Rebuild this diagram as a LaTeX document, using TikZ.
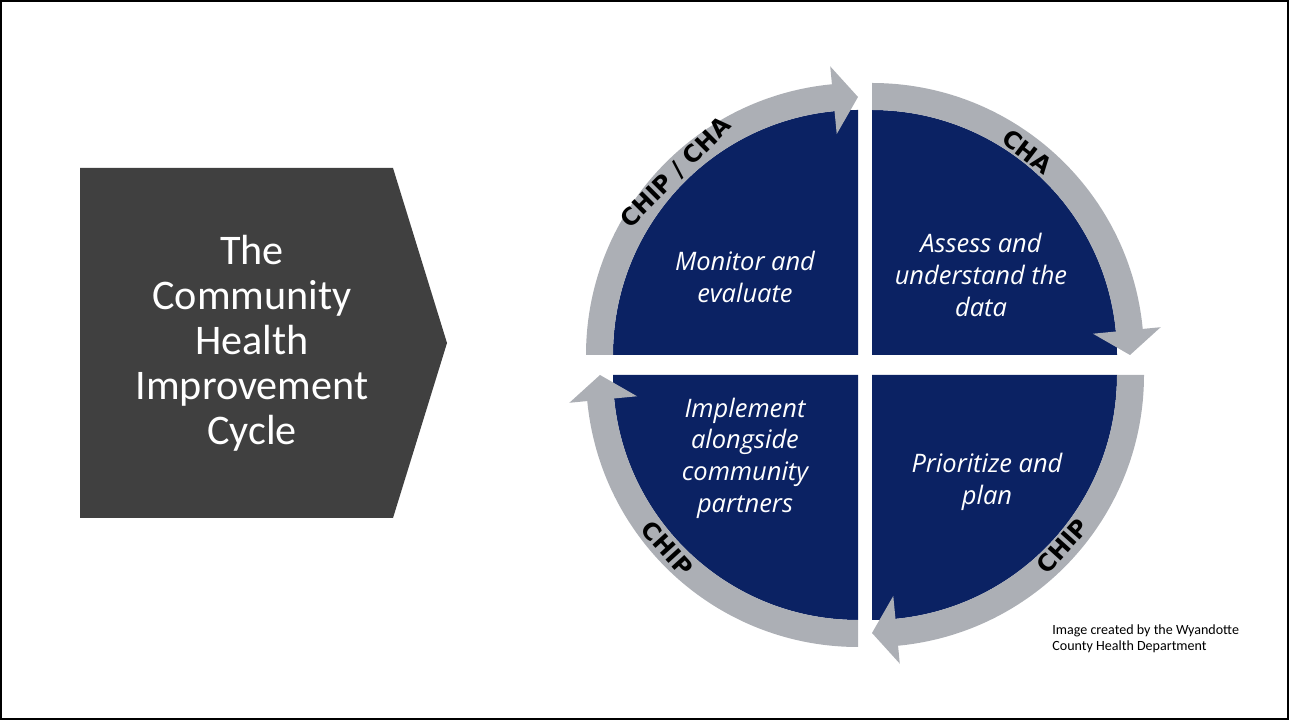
\documentclass[tikz,border=0pt]{standalone}
\usepackage{fontspec}
\setmainfont{Carlito}
\newfontfamily\quadfont{Open Sans}
\newfontfamily\ringfont{DejaVu Sans}
\usepackage{tikz}
\usetikzlibrary{calc}

\definecolor{quadnavy}{RGB}{11,34,99}
\definecolor{ringgray}{RGB}{172,175,181}
\definecolor{titlegray}{RGB}{64,64,64}

\tikzset{
	quadtext/.style={text=white, align=center, font=\quadfont\itshape\fontsize{14.5}{18}\selectfont},
	ringlabel/.style={text=black, font=\ringfont\bfseries\fontsize{13.5}{13.5}\selectfont, inner sep=0pt}
}

\begin{document}
\begin{tikzpicture}[x=0.02cm,y=0.02cm]
	\useasboundingbox (0,0) rectangle (1289,720);

	% Frame
	\draw[line width=1.2pt] (1,1) rectangle (1288,719);

	% Title arrow
	\fill[titlegray] (80,552) -- (393,552) -- (447,377) -- (393,202) -- (80,202) -- cycle;
	\node [text=white,
		align=center,
		font=\fontsize{24}{25.6}\selectfont
		] (title) at (252,377) {The\\Community\\Health\\Improvement\\Cycle};

	% Quadrant corners
	\coordinate (tl) at (858,365);
	\coordinate (tr) at (872,365);
	\coordinate (bl) at (858,345);
	\coordinate (br) at (872,345);

	% Quadrants
	\fill[quadnavy] (tl) -- ++(180:245) arc[start angle=180, end angle=90, radius=245] -- cycle;
	\fill[quadnavy] (tr) -- ++(90:245) arc[start angle=90, end angle=0, radius=245] -- cycle;
	\fill[quadnavy] (br) -- ++(0:245) arc[start angle=0, end angle=-90, radius=245] -- cycle;
	\fill[quadnavy] (bl) -- ++(-90:245) arc[start angle=-90, end angle=-180, radius=245] -- cycle;

	% Ring arrows
	\fill[ringgray] ($(tl)+(180:272)$) arc[start angle=180, end angle=95.5, radius=272]
		-- ($(tl)+(95.5:290)$) -- ($(tl)+(90:258)$) -- ($(tl)+(95.5:222)$)
		-- ($(tl)+(95.5:245)$) arc[start angle=95.5, end angle=180, radius=245] -- cycle;
	\fill[ringgray] ($(tr)+(90:272)$) arc[start angle=90, end angle=5.5, radius=272]
		-- ($(tr)+(5.5:290)$) -- ($(tr)+(0:258)$) -- ($(tr)+(5.5:222)$)
		-- ($(tr)+(5.5:245)$) arc[start angle=5.5, end angle=90, radius=245] -- cycle;
	\fill[ringgray] ($(br)+(0:272)$) arc[start angle=0, end angle=-84.5, radius=272]
		-- ($(br)+(-84.5:290)$) -- ($(br)+(-90:258)$) -- ($(br)+(-84.5:222)$)
		-- ($(br)+(-84.5:245)$) arc[start angle=-84.5, end angle=0, radius=245] -- cycle;
	\fill[ringgray] ($(bl)+(-90:272)$) arc[start angle=-90, end angle=-174.5, radius=272]
		-- ($(bl)+(-174.5:290)$) -- ($(bl)+(-180:258)$) -- ($(bl)+(-174.5:222)$)
		-- ($(bl)+(-174.5:245)$) arc[start angle=-174.5, end angle=-90, radius=245] -- cycle;

	% Ring labels
	\node[ringlabel, rotate=45] (chipcha) at ($(tl)+(135:258)$) {CHIP / CHA};
	\node[ringlabel, rotate=-37.4] (cha) at ($(tr)+(52.6:256)$) {CHA};
	\node[ringlabel, rotate=48] (chipbr) at ($(br)+(-42:256)$) {CHIP};
	\node[ringlabel, rotate=-47.7] (chipbl) at ($(bl)+(222.3:258)$) {CHIP};

	% Quadrant texts
	\node[quadtext] (monitor) at (745,443) {Monitor and\\evaluate};
	\node[quadtext] (assess) at (981,445) {Assess and\\understand the\\data};
	\node[quadtext] (implement) at (745,262) {Implement\\alongside\\community\\partners};
	\node[quadtext] (prioritize) at (987,238) {Prioritize and\\plan};

	% Credit
	\node [anchor=north west,
		align=left,
		inner sep=0pt,
		font=\fontsize{8}{9.5}\selectfont
		] (credit) at (1052,96) {Image created by the Wyandotte\\County Health Department};

\end{tikzpicture}
\end{document}
